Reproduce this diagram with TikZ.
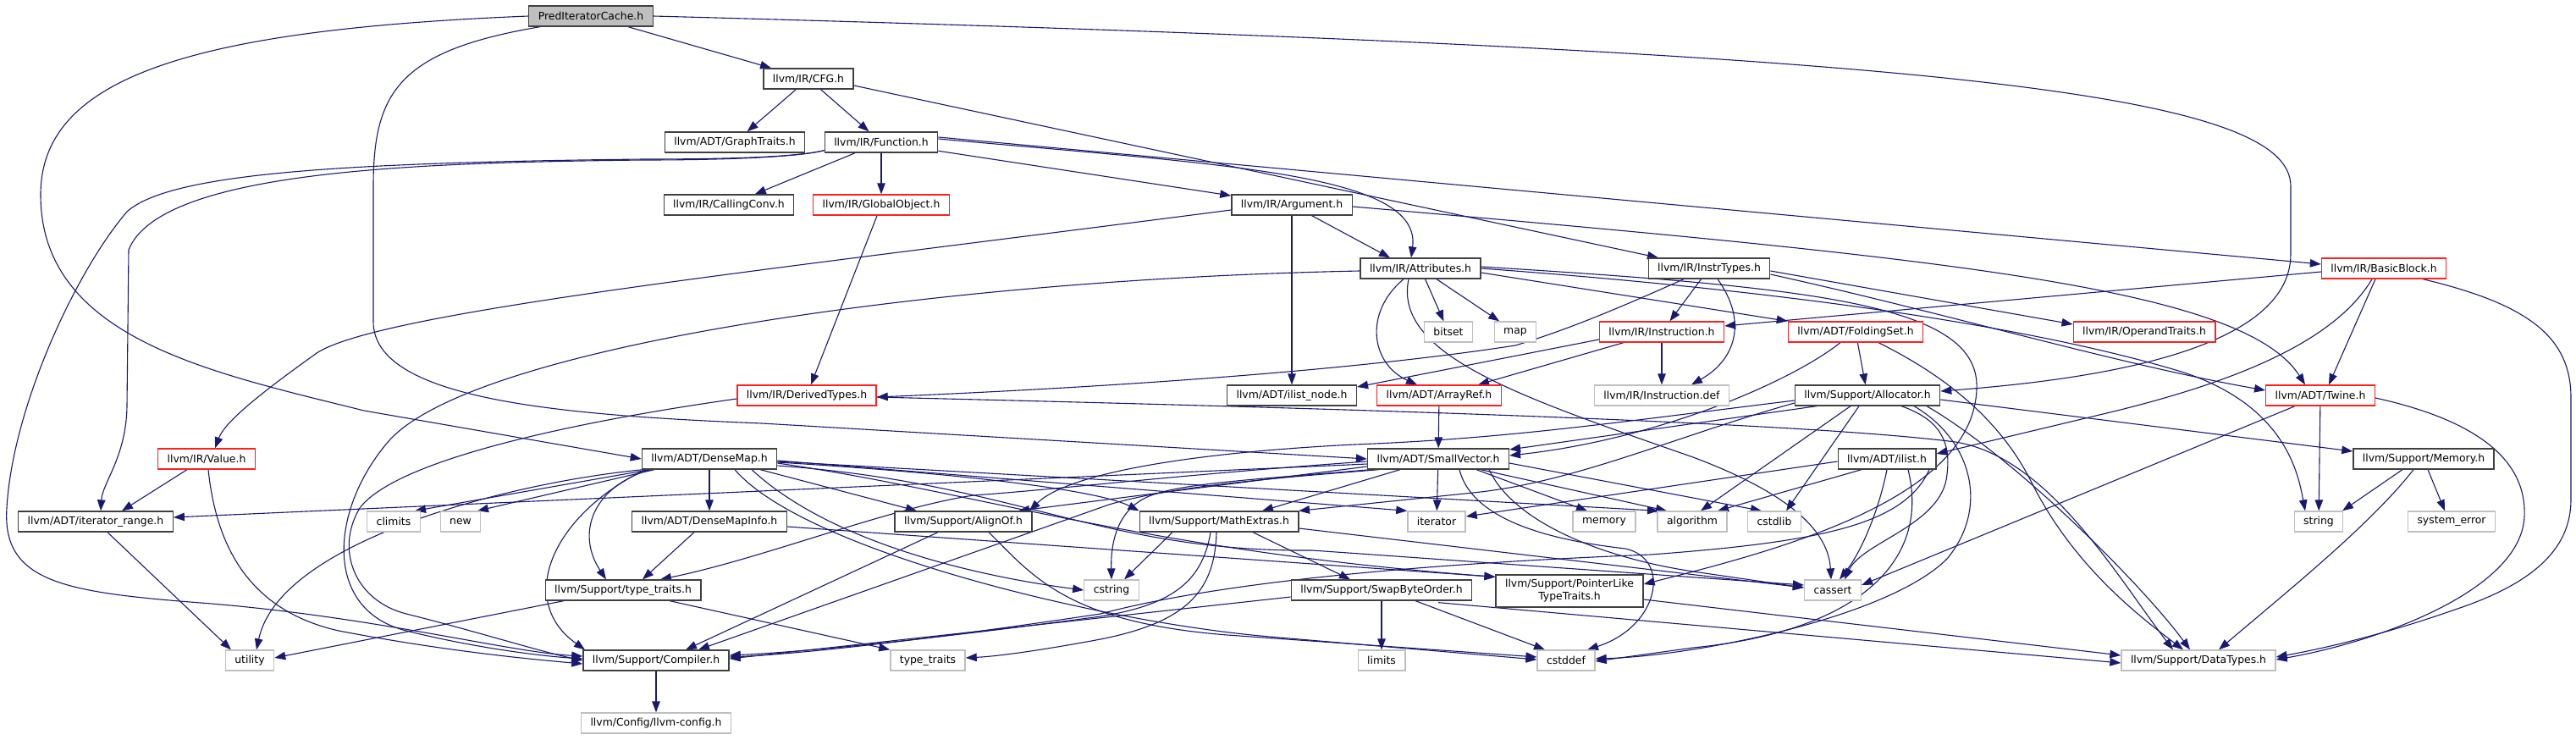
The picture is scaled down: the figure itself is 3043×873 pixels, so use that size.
\documentclass[tikz,border=0pt]{standalone}
\usepackage{fontspec}
\setmainfont{DejaVu Sans}
\usetikzlibrary{arrows.meta}
\pgfdeclarelayer{edges}
\pgfsetlayers{edges,main}
\definecolor{edgec}{HTML}{191970}
\definecolor{nodeg}{HTML}{BFBFBF}
\definecolor{noder}{HTML}{FF2020}
\definecolor{nodek}{HTML}{404040}
\tikzset{
  box/.style={rectangle, draw, fill=white, line width=1.3pt, minimum height=24pt,
    inner xsep=11pt, inner ysep=0pt, font=\fontsize{12.4}{15}\selectfont, text=black},
  nb/.style={box, draw=nodek},
  rb/.style={box, draw=noder},
  gb/.style={box, draw=nodeg},
  pb/.style={box, draw=nodek, fill=nodeg},
  e/.style={draw=edgec, line width=1.1pt, -{Triangle[length=13pt,width=9.5pt]}},
}
\begin{document}
\begin{tikzpicture}[x=1pt,y=-1pt]
\useasboundingbox (0,0) rectangle (3043,873);
% ---------- nodes ----------
\node[pb] (PIC) at (698,19) {PredIteratorCache.h};
\node[nb] (CFG) at (955,93) {llvm/IR/CFG.h};
\node[nb] (GT) at (868,168) {llvm/ADT/GraphTraits.h};
\node[nb] (Fn) at (1041,168) {llvm/IR/Function.h};
\node[nb] (CC) at (861,242) {llvm/IR/CallingConv.h};
\node[rb] (GO) at (1041,242) {llvm/IR/GlobalObject.h};
\node[nb] (Arg) at (1526,242) {llvm/IR/Argument.h};
\node[nb] (Attr) at (1678,317) {llvm/IR/Attributes.h};
\node[nb] (IT) at (2019,317) {llvm/IR/InstrTypes.h};
\node[rb] (BB) at (2816,317) {llvm/IR/BasicBlock.h};
\node[gb] (bitset) at (1711,392) {bitset};
\node[gb] (map) at (1790,392) {map};
\node[rb] (Inst) at (1963,392) {llvm/IR/Instruction.h};
\node[rb] (FS) at (2192,392) {llvm/ADT/FoldingSet.h};
\node[rb] (OT) at (2533,392) {llvm/IR/OperandTraits.h};
\node[rb] (DT) at (953,467) {llvm/IR/DerivedTypes.h};
\node[nb] (ILN) at (1526,467) {llvm/ADT/ilist\_node.h};
\node[rb] (AR) at (1700,467) {llvm/ADT/ArrayRef.h};
\node[gb] (IDef) at (1963,467) {llvm/IR/Instruction.def};
\node[nb] (Alloc) at (2206,467) {llvm/Support/Allocator.h};
\node[rb] (Twine) at (2741,467) {llvm/ADT/Twine.h};
\node[rb] (Val) at (244,542) {llvm/IR/Value.h};
\node[nb] (DM) at (838,542) {llvm/ADT/DenseMap.h};
\node[nb] (SV) at (1699,542) {llvm/ADT/SmallVector.h};
\node[nb] (ilist) at (2229,542) {llvm/ADT/ilist.h};
\node[nb] (Mem) at (2863,542) {llvm/Support/Memory.h};
\node[nb] (IR) at (113,616) {llvm/ADT/iterator\_range.h};
\node[gb] (climits) at (465,616) {climits};
\node[gb] (new) at (544,616) {new};
\node[nb] (DMI) at (838,616) {llvm/ADT/DenseMapInfo.h};
\node[nb] (AO) at (1138,616) {llvm/Support/AlignOf.h};
\node[nb] (ME) at (1440,616) {llvm/Support/MathExtras.h};
\node[gb] (iterator) at (1697,616) {iterator};
\node[gb] (memory) at (1895,616) {memory};
\node[gb] (algorithm) at (1999,616) {algorithm};
\node[gb] (cstdlib) at (2096,616) {cstdlib};
\node[gb] (string) at (2739,616) {string};
\node[gb] (syserr) at (2896,616) {system\_error};
\node[nb] (TT) at (736,697) {llvm/Support/type\_traits.h};
\node[gb] (cstring) at (1313,697) {cstring};
\node[nb] (SBO) at (1632,697) {llvm/Support/SwapByteOrder.h};
\node[nb, minimum height=38pt, align=center] (PLTT) at (1854,698) {llvm/Support/PointerLike\\TypeTraits.h};
\node[gb] (cassert) at (2165,697) {cassert};
\node[gb] (utility) at (295,780) {utility};
\node[nb] (Comp) at (775,780) {llvm/Support/Compiler.h};
\node[gb] (typetr) at (1096,780) {type\_traits};
\node[gb] (limits) at (1632,780) {limits};
\node[gb] (cstddef) at (1850,780) {cstddef};
\node[gb] (DTy) at (2597,780) {llvm/Support/DataTypes.h};
\node[gb] (cfg) at (775,854) {llvm/Config/llvm-config.h};
% ---------- edges ----------
\begin{pgfonlayer}{edges}
% PredIteratorCache.h
\draw[e] (PIC) -- (CFG);
\draw[e] (PIC.west) .. controls (230,35) and (48,90) .. (48,230) .. controls (48,400) and (250,440) .. (430,485) -- (DM.west);
\draw[e] ([xshift=-60pt]PIC.south) .. controls (470,60) and (441,110) .. (441,220) -- (441,380) .. controls (441,470) and (650,490) .. (900,500) -- (SV.west);
\draw[e] (PIC.east) .. controls (2300,60) and (2706,110) .. (2706,220) -- (2706,300) .. controls (2706,420) and (2450,450) .. ([yshift=5pt]Alloc.east);
% CFG.h
\draw[e] (CFG) -- (GT);
\draw[e] (CFG) -- (Fn);
\draw[e] ([yshift=-8pt]CFG.east) -- ([xshift=-60pt]IT.north);
% Function.h
\draw[e] (Fn) -- (CC);
\draw[e] (Fn) -- (GO);
\draw[e] (Fn) -- (Arg);
\draw[e] ([yshift=4pt]Fn.east) .. controls (1450,195) and (1680,205) .. ([xshift=-11pt]Attr.north);
\draw[e] ([yshift=6pt]Fn.east) -- ([yshift=5pt]BB.west);
\draw[e] ([yshift=3pt]Fn.south west) .. controls (940,186) and (850,189) .. (760,189) .. controls (500,192) and (190,200) .. (152,295) -- (150,480) .. controls (149,540) and (121,570) .. ([xshift=6pt]IR.north);
\draw[e] ([yshift=3pt]Fn.south west) .. controls (940,186) and (850,188) .. (760,188) .. controls (400,192) and (200,205) .. (150,250) .. controls (90,320) and (15,480) .. (8,600) .. controls (2,690) and (80,700) .. (250,713) .. controls (450,730) and (600,770) .. ([yshift=5pt]Comp.west);
% Argument.h
\draw[e] (Arg) -- (ILN);
\draw[e] ([yshift=-6pt]Arg.west) .. controls (900,320) and (430,370) .. (370,420) .. controls (300,470) and (265,500) .. ([xshift=10pt]Val.north);
\draw[e] (Arg) -- ([xshift=-36pt]Attr.north);
\draw[e] ([yshift=-2pt]Arg.east) .. controls (2300,305) and (2650,340) .. ([xshift=-18pt]Twine.north);
% GlobalObject.h
\draw[e] (GO) -- (DT);
% Attributes.h
\draw[e] (Attr) -- (bitset);
\draw[e] (Attr) -- (map);
\draw[e] ([xshift=-20pt]Attr.south) .. controls (1610,370) and (1620,430) .. ([xshift=-26pt]AR.north);
\draw[e] ([yshift=-3pt]Attr.west) .. controls (1100,330) and (560,410) .. (460,520) .. controls (390,600) and (380,720) .. (480,745) .. controls (560,765) and (640,775) .. ([yshift=2pt]Comp.west);
\draw[e] ([yshift=-5pt]Attr.east) -- (FS.north west);
\draw[e] ([xshift=-14pt]Attr.south) .. controls (1645,420) and (1800,470) .. (2000,540) .. controls (2120,585) and (2160,630) .. ([xshift=-2pt]cassert.north);
\draw[e] ([yshift=2pt]Attr.east) .. controls (2150,340) and (2340,360) .. (2335,460) .. controls (2330,590) and (2100,650) .. ([yshift=8pt]PLTT.east);
\draw[e] (Attr.east) .. controls (2200,350) and (2450,400) .. (2580,440) .. controls (2700,480) and (2715,560) .. ([xshift=-16pt]string.north);
% InstrTypes.h
\draw[e] (IT) -- (Inst);
\draw[e] ([xshift=10pt]IT.south) .. controls (2065,380) and (2050,425) .. ([xshift=35pt]IDef.north);
\draw[e] ([xshift=-30pt]IT.south) .. controls (1910,365) and (1850,390) .. (1790,408) .. controls (1550,445) and (1200,462) .. ([yshift=-2pt]DT.east);
\draw[e] ([yshift=-3pt]IT.east) -- ([yshift=9pt]OT.west);
\draw[e] ([yshift=-7pt]IT.east) .. controls (2300,370) and (2500,430) .. ([yshift=6pt]Twine.west);
% BasicBlock.h
\draw[e] ([yshift=-4pt]BB.west) -- ([yshift=7pt]Inst.east);
\draw[e] ([xshift=-10pt]BB.south) -- ([xshift=10pt]Twine.north);
\draw[e] ([xshift=-14pt]BB.south) .. controls (2760,400) and (2650,450) .. (2480,490) -- ([yshift=6pt]ilist.east);
\draw[e] ([xshift=46pt]BB.south) .. controls (2990,360) and (3037,400) .. (3037,470) -- (3037,590) .. controls (3037,650) and (2990,690) .. (2900,720) .. controls (2820,748) and (2750,765) .. ([yshift=4pt]DTy.east);
% Instruction.h
\draw[e] ([yshift=-9pt]Inst.west) -- ([yshift=10pt]ILN.east);
\draw[e] ([xshift=-45pt]Inst.south) -- ([xshift=46pt]AR.north);
\draw[e] (Inst) -- (IDef);
% FoldingSet.h
\draw[e] (FS) -- (Alloc);
\draw[e] ([xshift=-18pt]FS.south) .. controls (2110,455) and (1950,520) .. ([yshift=4pt]SV.east);
\draw[e] ([xshift=27pt]FS.south) .. controls (2290,440) and (2360,490) .. (2400,570) .. controls (2450,670) and (2530,730) .. ([xshift=-18pt]DTy.north);
% ArrayRef.h
\draw[e] (AR) -- (SV);
% DerivedTypes.h
\draw[e] ([yshift=-4pt]DT.west) .. controls (700,495) and (470,540) .. (425,600) .. controls (395,650) and (420,710) .. (480,725) .. controls (560,745) and (640,770) .. (Comp.west);
\draw[e] ([yshift=-2pt]DT.east) .. controls (1400,478) and (2100,495) .. (2310,522) .. controls (2420,540) and (2500,680) .. ([xshift=-30pt]DTy.north);
% Value.h
\draw[e] ([xshift=-23pt]Val.south) -- ([xshift=31pt]IR.north);
\draw[e] ([xshift=2pt]Val.south) .. controls (255,640) and (290,720) .. (400,745) .. controls (520,768) and (620,778) .. ([yshift=-4pt]Comp.west);
% DenseMap.h
\draw[e] ([xshift=-70pt]DM.south) -- ([xshift=25pt]climits.north);
\draw[e] ([xshift=-65pt]DM.south) -- ([xshift=20pt]new.north);
\draw[e] ([xshift=-78pt]DM.south) .. controls (600,570) and (330,640) .. ([xshift=8pt]utility.north);
\draw[e] (DM) -- (DMI);
\draw[e] ([xshift=-70pt]DM.south) .. controls (700,575) and (680,630) .. ([xshift=-20pt]TT.north);
\draw[e] ([xshift=-76pt]DM.south) .. controls (650,610) and (610,710) .. ([xshift=-84pt]Comp.north);
\draw[e] ([xshift=60pt]DM.south) -- ([xshift=-55pt]AO.north);
\draw[e] ([yshift=-4pt]DM.east) .. controls (1150,560) and (1300,580) .. (ME.north west);
\draw[e] ([yshift=-5pt]DM.east) .. controls (1150,580) and (1350,650) .. ([yshift=-3pt]PLTT.north west);
\draw[e] ([yshift=-2pt]DM.east) -- (iterator.north west);
\draw[e] ([yshift=-3pt]DM.east) -- ([xshift=-40pt]algorithm.north);
\draw[e] ([yshift=-8pt]DM.east) .. controls (1200,570) and (1300,652) .. (1550,650) -- ([yshift=6pt]cassert.west);
\draw[e] ([xshift=30pt]DM.south) .. controls (950,650) and (1300,735) .. (1500,752) -- ([yshift=1pt]cstddef.west);
\draw[e] ([xshift=50pt]DM.south) .. controls (980,640) and (1150,680) .. (cstring.west);
% DenseMapInfo.h
\draw[e] ([xshift=-18pt]DMI.south) -- ([xshift=23pt]TT.north);
\draw[e] ([yshift=-6pt]DMI.east) -- ([yshift=-3pt]PLTT.north west);
% SmallVector.h
\draw[e] ([yshift=-6pt]SV.west) -- ([yshift=5pt]IR.east);
\draw[e] ([yshift=-9pt]SV.west) -- ([xshift=65pt]AO.north);
\draw[e] ([xshift=-70pt]SV.south) .. controls (1500,565) and (1380,575) .. (1310,596) -- ([xshift=50pt]Comp.north);
\draw[e] ([xshift=-45pt]SV.south) -- ([xshift=51pt]ME.north);
\draw[e] ([yshift=-3pt]SV.west) .. controls (1400,560) and (1250,578) .. (1150,585) .. controls (1050,600) and (900,660) .. ([xshift=44pt]TT.north);
\draw[e] ([xshift=50pt]SV.south) -- ([xshift=-30pt]algorithm.north);
\draw[e] ([xshift=60pt]SV.south) .. controls (1790,620) and (1900,660) .. (2000,675) -- ([yshift=3pt]cassert.west);
\draw[e] ([xshift=25pt]SV.south) .. controls (1740,620) and (1850,640) .. (1920,648) .. controls (1975,660) and (1960,740) .. ([xshift=25pt]cstddef.north);
\draw[e] ([yshift=-5pt]SV.east) -- ([xshift=-15pt]cstdlib.north);
\draw[e] ([xshift=-80pt]SV.south) .. controls (1500,565) and (1400,570) .. (1360,585) .. controls (1320,600) and (1312,640) .. (cstring.north);
\draw[e] (SV) -- (iterator);
\draw[e] ([xshift=45pt]SV.south) -- ([xshift=-20pt]memory.north);
% Allocator.h
\draw[e] ([xshift=-60pt]Alloc.south) -- ([yshift=11pt]SV.east);
\draw[e] ([yshift=-6pt]Alloc.west) .. controls (1900,500) and (1780,518) .. (1600,525) .. controls (1400,535) and (1260,560) .. ([xshift=78pt]AO.north);
\draw[e] ([yshift=-9pt]Alloc.west) .. controls (1980,515) and (1860,570) .. (1740,582) -- ([xshift=94pt]ME.north);
\draw[e] ([yshift=-5pt]Alloc.east) -- ([yshift=9pt]Mem.west);
\draw[e] ([xshift=-20pt]Alloc.south) -- ([xshift=10pt]algorithm.north);
\draw[e] ([xshift=-10pt]Alloc.south) -- ([xshift=14pt]cstdlib.north);
\draw[e] ([xshift=40pt]Alloc.south) .. controls (2290,495) and (2305,520) .. (2300,560) .. controls (2295,620) and (2200,640) .. ([xshift=14pt]cassert.north);
\draw[e] ([xshift=55pt]Alloc.south) .. controls (2330,520) and (2350,600) .. (2300,660) .. controls (2230,730) and (2000,775) .. ([yshift=2pt]cstddef.east);
\draw[e] ([xshift=70pt]Alloc.south) .. controls (2380,540) and (2530,690) .. ([xshift=-10pt]DTy.north);
% ilist.h
\draw[e] ([yshift=-3pt]ilist.west) -- ([yshift=6pt]iterator.east);
\draw[e] ([xshift=-30pt]ilist.south) -- ([xshift=30pt]algorithm.north);
\draw[e] ([xshift=50pt]ilist.south) .. controls (2250,620) and (2150,640) .. (1950,655) .. controls (1700,665) and (1450,685) .. (1300,725) .. controls (1100,755) and (950,772) .. ([yshift=4pt]Comp.east);
\draw[e] (ilist.south) .. controls (2220,600) and (2200,650) .. ([xshift=8pt]cassert.north);
\draw[e] ([xshift=25pt]ilist.south) .. controls (2280,660) and (2200,745) .. (2000,765) -- ([yshift=-1pt]cstddef.east);
% Memory.h
\draw[e] ([xshift=-25pt]Mem.south) -- ([xshift=28pt]string.north);
\draw[e] ([xshift=5pt]Mem.south) -- ([xshift=-8pt]syserr.north);
\draw[e] ([xshift=-12pt]Mem.south) .. controls (2800,620) and (2700,700) .. ([xshift=24pt]DTy.north);
% Twine.h
\draw[e] (Twine) -- (string);
\draw[e] ([xshift=-30pt]Twine.south) -- ([yshift=6pt]cassert.east);
\draw[e] ([yshift=-3pt]Twine.east) .. controls (2920,495) and (2985,540) .. (2982,610) .. controls (2978,700) and (2800,760) .. ([yshift=1pt]DTy.east);
% PointerLikeTypeTraits.h
\draw[e] ([yshift=-10pt]PLTT.east) -- ([yshift=6pt]DTy.west);
% SwapByteOrder.h
\draw[e] ([yshift=-8pt]SBO.west) -- ([yshift=2pt]Comp.east);
\draw[e] (SBO) -- (limits);
\draw[e] ([xshift=40pt]SBO.south) -- ([xshift=-25pt]cstddef.north);
\draw[e] ([xshift=67pt,yshift=-2pt]SBO.south) -- ([yshift=-3pt]DTy.west);
% type_traits.h
\draw[e] ([xshift=-70pt]TT.south) -- ([yshift=3pt]utility.east);
\draw[e] ([xshift=55pt]TT.south) -- (typetr.north west);
% iterator_range.h
\draw[e] ([xshift=14pt]IR.south) -- ([xshift=-22pt]utility.north);
% AlignOf.h
\draw[e] ([xshift=-30pt]AO.south) -- ([xshift=35pt]Comp.north);
\draw[e] ([xshift=30pt]AO.south) .. controls (1220,680) and (1260,735) .. (1450,750) -- ([yshift=4pt]cstddef.west);
% MathExtras.h
\draw[e] ([xshift=-10pt]ME.south) .. controls (1420,690) and (1380,715) .. (1300,728) .. controls (1100,755) and (950,770) .. ([yshift=6pt]Comp.east);
\draw[e] ([xshift=-3pt]ME.south) .. controls (1435,700) and (1400,735) .. (1300,755) .. controls (1230,768) and (1180,775) .. ([yshift=3pt]typetr.east);
\draw[e] ([xshift=40pt]ME.south) -- ([xshift=-37pt]SBO.north);
\draw[e] ([xshift=-55pt]ME.south) -- ([xshift=15pt]cstring.north);
\draw[e] ([yshift=-8pt]ME.east) -- ([yshift=3pt]cassert.west);
% Compiler.h
\draw[e] (Comp) -- (cfg);
\end{pgfonlayer}
\end{tikzpicture}
\end{document}
